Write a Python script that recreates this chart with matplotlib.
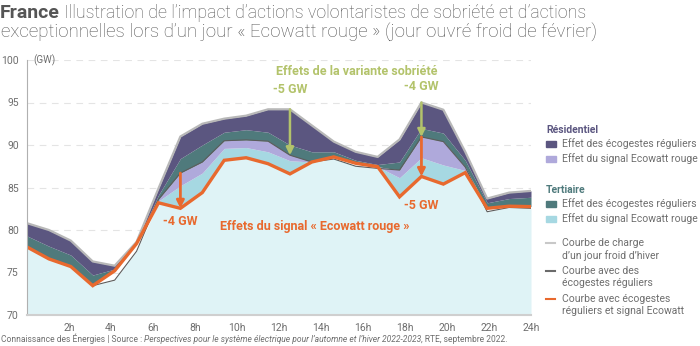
import numpy as np
import matplotlib
matplotlib.use('Agg')
import matplotlib.pyplot as plt
from matplotlib.patches import Rectangle
from matplotlib.lines import Line2D

plt.rcParams['font.family'] = ['Roboto', 'DejaVu Sans']

# consommation horaire (GW), 24 points de 0h a 24h
charge_froid = [80.8, 80.0, 78.75, 76.3, 75.8, 78.6, 84.9, 91.0, 92.5, 93.1, 93.45, 94.2,
                94.2, 92.3, 90.4, 89.2, 88.6, 90.65, 95.0, 94.15, 89.2, 83.7, 84.4, 84.6]
courbe_ecogestes = [78.0, 76.6, 75.7, 73.45, 74.1, 77.5, 83.6, 86.7, 88.0, 90.5, 90.6, 90.45,
                    88.8, 88.0, 88.35, 87.5, 87.25, 87.05, 90.95, 90.4, 87.4, 82.15, 82.65, 82.55]
courbe_ecowatt = [78.0, 76.6, 75.7, 73.45, 75.2, 78.4, 83.2, 82.55, 84.4, 88.2, 88.5, 87.8,
                  86.6, 88.0, 88.6, 87.85, 87.45, 83.9, 86.3, 85.4, 86.75, 82.55, 82.8, 82.75]
# part residentielle de chaque effet
res_ecogestes = [1.5, 1.9, 1.7, 1.6, 0.4, 0.1, 0.8, 2.6, 2.5, 1.6, 1.65, 2.7,
                 4.2, 3.1, 1.2, 1.0, 0.9, 2.65, 3.05, 2.75, 1.0, 0.5, 0.7, 0.75]
res_ecowatt = [0, 0, 0, 0, 0, 0, 0.2, 1.5, 1.3, 0.9, 0.9, 1.25,
               0.65, 0, 0, 0, 0, 0.9, 2.45, 2.75, 0.4, 0, 0, 0]

yticks = [70, 75, 80, 85, 90, 95, 100]
xticks = [2, 4, 6, 8, 10, 12, 14, 16, 18, 20, 22, 24]

C_BASE = '#dff3f6'
C_TER_WATT = '#a6d8e2'
C_RES_WATT = '#afa9db'
C_TER_ECO = '#4f7a7c'
C_RES_ECO = '#5b5680'
C_ORANGE = '#e8692e'
C_GREEN = '#b3c36b'
C_TEXT = '#6e6e6e'

top = np.array(charge_froid)
eco = np.array(courbe_ecogestes)
fin = np.array(courbe_ecowatt)
x = np.linspace(0, 24, len(top))

fig = plt.figure(figsize=(7, 3.46), dpi=100)
ax = fig.add_axes([27 / 700, 1 - 315 / 346, 504 / 700, 255 / 346])

eco_hi = np.maximum(eco, fin)
watt_split = np.maximum(eco - np.array(res_ecowatt), fin)
res_split = top - np.array(res_ecogestes)

ax.fill_between(x, 70, np.minimum(eco, fin), color=C_BASE, lw=0)
ax.fill_between(x, fin, watt_split, color=C_TER_WATT, lw=0)
ax.fill_between(x, watt_split, eco_hi, color=C_RES_WATT, lw=0)
ax.fill_between(x, eco_hi, res_split, color=C_TER_ECO, lw=0)
ax.fill_between(x, res_split, top, color=C_RES_ECO, lw=0)

ax.plot(x, top, color='#b8b8b8', lw=1.6)
ax.plot(x, eco, color='#5c5c5c', lw=0.8)
ax.plot(x, fin, color=C_ORANGE, lw=2.4, solid_joinstyle='miter')

ax.set_xlim(0, 24)
ax.set_ylim(70, 100)
ax.set_yticks(yticks)
ax.set_xticks(xticks)
ax.set_xticklabels([f'{h}h' for h in xticks])
ax.tick_params(length=0, labelsize=7.5, labelcolor=C_TEXT, pad=6)
ax.grid(axis='y', color='#e4e4e4', ls=(0, (6, 5)), lw=0.8)
ax.set_axisbelow(True)
for s in ['top', 'right']:
    ax.spines[s].set_visible(False)
ax.spines['left'].set_color('#b0b0b0')
ax.spines['bottom'].set_color('#cfcfcf')
ax.spines['bottom'].set_linewidth(1.5)
ax.text(0.3, 100, '(GW)', fontsize=7, color=C_TEXT, va='center', ha='left')

# fleches : variante sobriete (vert) et signal Ecowatt (orange)
def fleche(h, y0, y1, color, lw):
    i = int(round(h * (len(x) - 1) / 24))
    ax.annotate('', xy=(x[i], y1), xytext=(x[i], y0),
                arrowprops=dict(arrowstyle='-|>', color=color, lw=lw,
                                mutation_scale=11, shrinkA=0, shrinkB=0))

fleche(12.5, top[12], eco[12], C_GREEN, 1.8)
fleche(18.8, top[18], eco[18], C_GREEN, 1.8)
fleche(7.3, eco[7], fin[7], C_ORANGE, 2)
fleche(18.8, eco[18], fin[18], C_ORANGE, 2)

lab = dict(fontsize=9, fontweight='bold', ha='center', va='center')
ax.text(15.7, 98.6, 'Effets de la variante sobriété', color=C_GREEN, **lab)
ax.text(x[12], 96.5, '-5 GW', color=C_GREEN, **lab)
ax.text(x[18], 96.9, '-4 GW', color=C_GREEN, **lab)
ax.text(x[7], 81.0, '-4 GW', color=C_ORANGE, **lab)
ax.text(x[18], 82.85, '-5 GW', color=C_ORANGE, **lab)
ax.text(13.7, 80.4, 'Effets du signal « Ecowatt rouge »', color=C_ORANGE, **lab)


def px(u, v):
    return u / 700, 1 - v / 346


# titre en deux parties
fig.canvas.draw()
r = fig.canvas.get_renderer()
t1 = fig.text(*px(0, 13), 'France', fontsize=14, fontweight='bold', color='#555555', va='center')
bb = t1.get_window_extent(r)
fig.text(bb.x1 / 700 + 0.006, 1 - 13 / 346,
         'Illustration de l\u2019impact d\u2019actions volontaristes de sobriété et d\u2019actions',
         fontsize=12.8, fontweight='light', color='#555555', va='center')
fig.text(*px(1, 33), 'exceptionnelles lors d\u2019un jour « Ecowatt rouge » (jour ouvré froid de février)',
         fontsize=13.5, fontweight='light', color='#555555', va='center')

# source
s1 = fig.text(*px(1, 339), 'Connaissance des Énergies | Source : ', fontsize=6.15, color=C_TEXT, va='center')
bb = s1.get_window_extent(r)
s2 = fig.text(bb.x1 / 700, 1 - 339 / 346,
              'Perspectives pour le système électrique pour l\u2019automne et l\u2019hiver 2022-2023',
              fontsize=6.15, color=C_TEXT, style='italic', va='center')
bb = s2.get_window_extent(r)
fig.text(bb.x1 / 700, 1 - 339 / 346, ', RTE, septembre 2022.', fontsize=6.15, color=C_TEXT, va='center')

# legende
fig.text(*px(546, 130), 'Résidentiel', fontsize=7.5, fontweight='bold', color=C_RES_ECO, va='center')
fig.text(*px(546, 190), 'Tertiaire', fontsize=7.5, fontweight='bold', color=C_TER_ECO, va='center')
carres = [(144, C_RES_ECO, 'Effet des écogestes réguliers'),
          (159, C_RES_WATT, 'Effet du signal Ecowatt rouge'),
          (204, C_TER_ECO, 'Effet des écogestes réguliers'),
          (219, C_TER_WATT, 'Effet du signal Ecowatt rouge')]
for yy, c, txt in carres:
    fx, fy = px(546, yy + 3)
    fig.patches.append(Rectangle((fx, fy), 10 / 700, 6 / 346, color=c, transform=fig.transFigure))
    fig.text(*px(562, yy), txt, fontsize=7.5, color=C_TEXT, va='center')

lignes = [(243, '#c8c8c8', 'Courbe de charge\nd\u2019un jour froid d\u2019hiver'),
          (271, '#6a6a6a', 'Courbe avec des\nécogestes réguliers'),
          (299, C_ORANGE, 'Courbe avec écogestes\nréguliers et signal Ecowatt')]
for yy, c, txt in lignes:
    x0, y0 = px(546, yy)
    x1, _ = px(555, yy)
    fig.lines.append(Line2D([x0, x1], [y0, y0], color=c, lw=1.5, transform=fig.transFigure))
    fig.text(*px(562, yy - 4.5), txt, fontsize=7.5, color=C_TEXT, va='top', linespacing=1.2)

fig.savefig('out.png', dpi=100)
